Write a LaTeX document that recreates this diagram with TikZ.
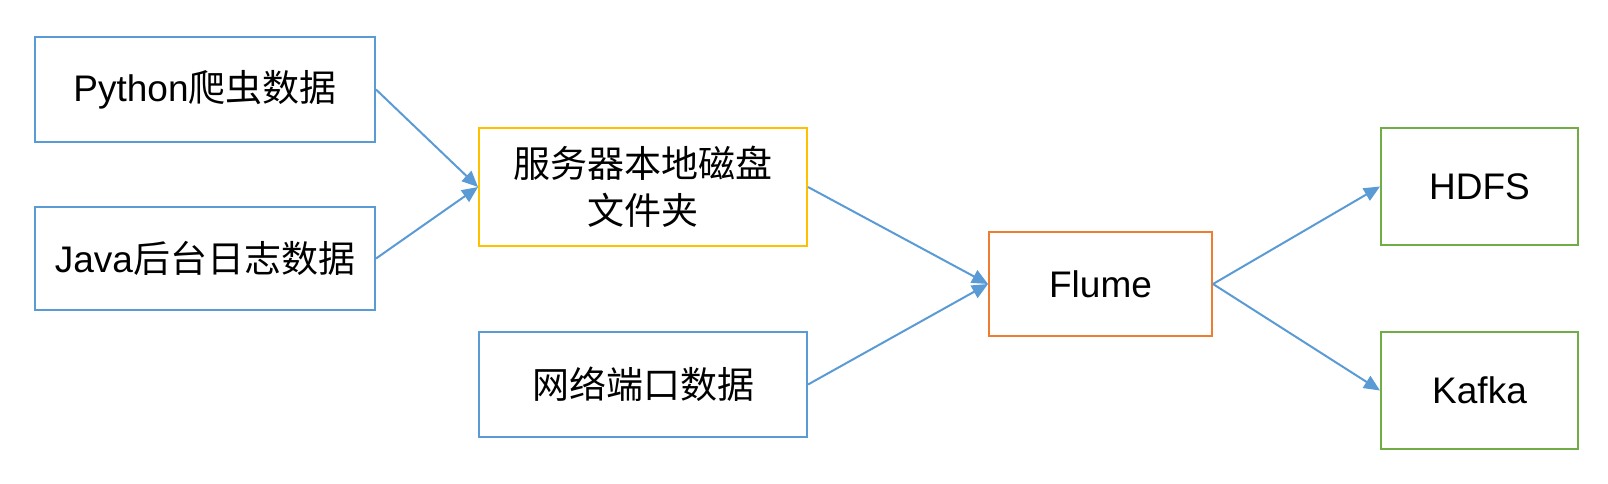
\documentclass[tikz,border=0pt]{standalone}
\usepackage{fontspec}
\setmainfont{Liberation Sans}
\newfontfamily\cjk{Noto Sans CJK SC}
\usetikzlibrary{arrows.meta}
\definecolor{cblue}{HTML}{5B9BD5}
\definecolor{cyellow}{HTML}{FFC000}
\definecolor{corange}{HTML}{ED7D31}
\definecolor{cgreen}{HTML}{70AD47}
\begin{document}
\begin{tikzpicture}[x=1pt,y=-1pt,
  box/.style={draw=#1, line width=2pt, inner sep=0pt, align=center,
    font=\fontsize{37}{47}\selectfont},
  conn/.style={draw=cblue, line width=2pt, -{Triangle[length=16pt,width=14pt]}}]
\useasboundingbox (0,0) rectangle (1608,483);
\node[box=cblue, minimum width=340pt, minimum height=105pt] (py) at (205,89.5) {Python{\cjk 爬虫数据}};
\node[box=cblue, minimum width=340pt, minimum height=103pt] (java) at (205,258.5) {Java{\cjk 后台日志数据}};
\node[box=cyellow, minimum width=328pt, minimum height=118pt] (srv) at (643,187) {{\cjk 服务器本地磁盘}\\{\cjk 文件夹}};
\node[box=cblue, minimum width=328pt, minimum height=105pt] (net) at (643,384.5) {{\cjk 网络端口数据}};
\node[box=corange, minimum width=223pt, minimum height=104pt] (flume) at (1100.5,284) {Flume};
\node[box=cgreen, minimum width=197pt, minimum height=117pt] (hdfs) at (1479.5,186.5) {HDFS};
\node[box=cgreen, minimum width=197pt, minimum height=117pt] (kafka) at (1479.5,390.5) {Kafka};
\draw[conn] (py.east) -- (srv.west);
\draw[conn] (java.east) -- (srv.west);
\draw[conn] (srv.east) -- (flume.west);
\draw[conn] (net.east) -- (flume.west);
\draw[conn] (flume.east) -- (hdfs.west);
\draw[conn] (flume.east) -- (kafka.west);
\end{tikzpicture}
\end{document}
